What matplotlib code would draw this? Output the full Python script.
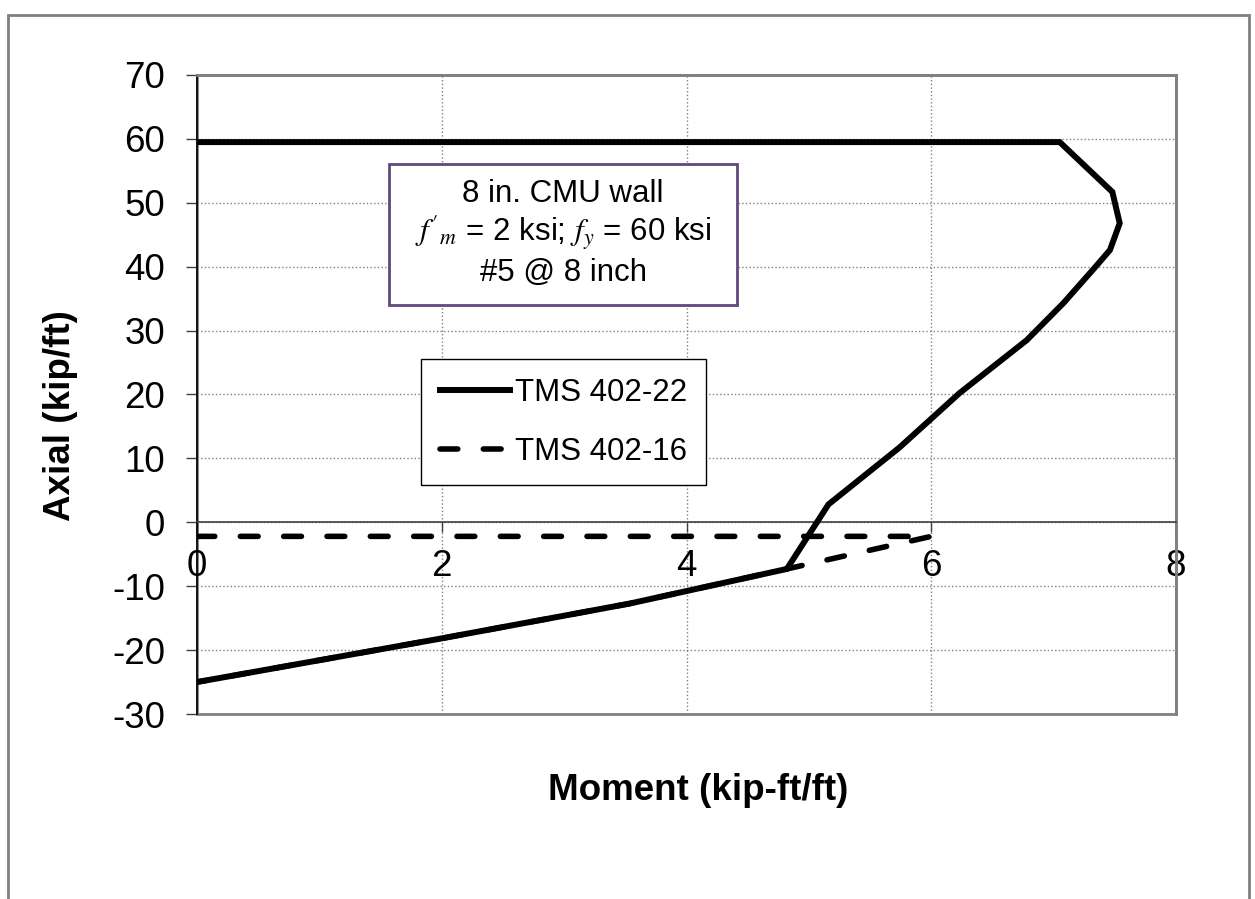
import matplotlib
matplotlib.use("Agg")
import matplotlib.pyplot as plt
from matplotlib.patches import Rectangle

plt.rcParams['font.family'] = ['Liberation Sans', 'DejaVu Sans']
plt.rcParams['mathtext.fontset'] = 'stix'
plt.rcParams['axes.unicode_minus'] = False

# interaction diagram values
moment_22 = [0, 7.05, 7.48, 7.54, 7.46, 7.32, 7.08, 6.78, 6.23, 5.74, 5.16, 4.82, 3.54, 1.99, 0]
axial_22 = [59.5, 59.5, 51.7, 46.8, 42.6, 39.5, 34.3, 28.5, 20.2, 11.7, 2.8, -7.3, -12.7, -18.2, -25.0]

moment_16 = [0, 6.0, 4.82, 3.54, 1.99, 0]
axial_16 = [-2.2, -2.2, -7.3, -12.7, -18.2, -25.0]

xticks = [0, 2, 4, 6, 8]
yticks = [-30, -20, -10, 0, 10, 20, 30, 40, 50, 60, 70]

fig = plt.figure(figsize=(12.55, 8.99), dpi=100)
ax = fig.add_axes([197/1255, 1 - 714/899, 979/1255, 639/899])

# outer chart border
fig.patches.append(Rectangle((8/1255, -0.05), 1241/1255, 1.05 - 15/899,
                             transform=fig.transFigure, fill=False,
                             edgecolor='#808080', linewidth=2))

ax.plot(moment_16, axial_16, color='black', linewidth=4.0, linestyle=(0, (3.2, 4.6)),
        dash_capstyle='round', label='TMS 402-16', zorder=3)
ax.plot(moment_22, axial_22, color='black', linewidth=4.3, solid_joinstyle='miter',
        label='TMS 402-22', zorder=4)

ax.set_xlim(0, 8)
ax.set_ylim(-30, 70)
ax.set_xticks(xticks)
ax.set_yticks(yticks)
ax.grid(True, color='#808080', linestyle=':', linewidth=1.0)

# plot area frame
for s in ['top', 'right']:
    ax.spines[s].set_color('#808080')
    ax.spines[s].set_linewidth(2)
ax.add_patch(Rectangle((0, 0), 1, 1, transform=ax.transAxes, fill=False,
                       edgecolor='#808080', linewidth=2, clip_on=False, zorder=1))
ax.spines['left'].set_color('black')
ax.spines['left'].set_linewidth(1.2)
ax.spines['bottom'].set_position(('data', 0))
ax.spines['bottom'].set_color('#404040')
ax.spines['bottom'].set_linewidth(1.2)

ax.tick_params(axis='y', direction='out', length=8, width=1, pad=15, labelsize=26.5, color='#404040')
ax.tick_params(axis='x', direction='out', length=7, width=1, pad=12, labelsize=26.5, color='#404040')

ax.set_xlabel('Moment (kip-ft/ft)', fontsize=26.5, fontweight='bold', va='center')
ax.xaxis.set_label_coords(0.512, -0.119)
ax.set_ylabel('Axial (kip/ft)', fontsize=26.5, fontweight='bold', va='center')
ax.yaxis.set_label_coords((61-197)/979, (714-416)/639)

# annotation box
ax.add_patch(Rectangle(((389-197)/979, (714-305)/639), (737-389)/979, (305-164)/639,
                       transform=ax.transAxes, facecolor='white', edgecolor='#60497A',
                       linewidth=2, zorder=5))
box_cx = (563-197)/979
ax.text(box_cx, (714-194)/639, '8 in. CMU wall', transform=ax.transAxes,
        ha='center', va='center', fontsize=22.5, zorder=6)
ax.text(box_cx, (714-233)/639, r"$f'_m$ = 2 ksi; $f_y$ = 60 ksi", transform=ax.transAxes,
        ha='center', va='center', fontsize=22.5, zorder=6)
ax.text(box_cx, (714-273)/639, '#5 @ 8 inch', transform=ax.transAxes,
        ha='center', va='center', fontsize=22.5, zorder=6)

handles, labels = ax.get_legend_handles_labels()
leg = ax.legend(handles[::-1], labels[::-1], loc='upper left',
                bbox_to_anchor=((421-197)/979, (714-359)/639), borderaxespad=0,
                fontsize=22.5, frameon=True, fancybox=False, framealpha=1,
                edgecolor='black', handlelength=2.25, handletextpad=0.15,
                labelspacing=0.92, borderpad=0.6)
leg.get_frame().set_linewidth(1.0)
leg.set_zorder(6)

fig.savefig('out.png', dpi=100)
